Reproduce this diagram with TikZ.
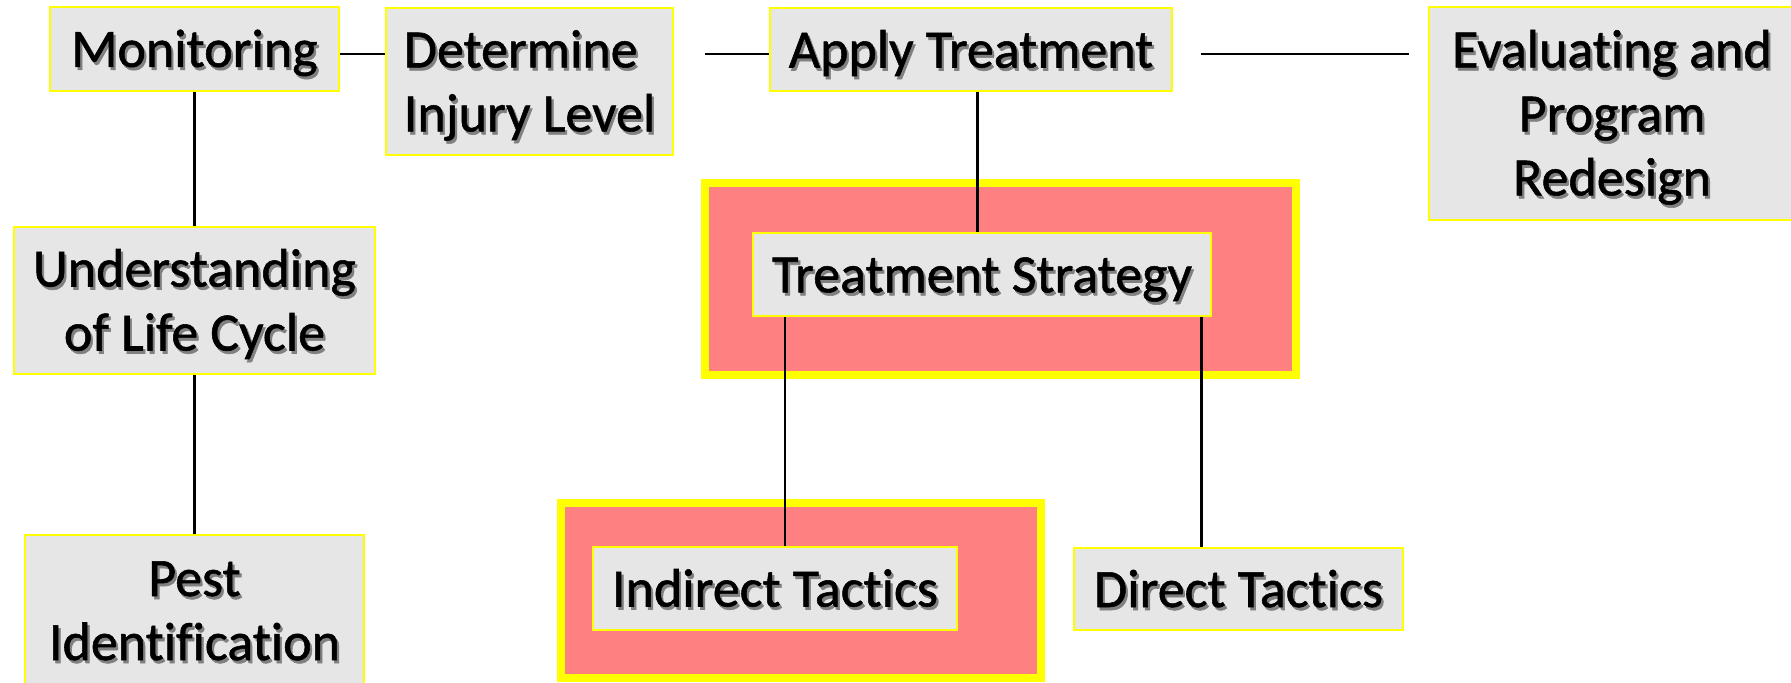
\documentclass[tikz,border=0pt]{standalone}
\usepackage{fontspec}
\setmainfont{Carlito}[Ligatures=CommonOff, FakeBold=1.0]
\usetikzlibrary{calc}
\definecolor{boxgray}{HTML}{E6E6E6}
\definecolor{pinkred}{HTML}{FF8080}
\definecolor{ylw}{HTML}{FFFF00}
\newcommand\shd[1]{\leavevmode\rule[-6pt]{0pt}{30pt}\rlap{\hspace{1.1pt}\raisebox{-1.5pt}{\textcolor{black!50}{#1}}}#1}
\tikzset{
  box/.style={draw=ylw, line width=1.2pt, fill=boxgray, inner sep=0pt, rectangle,
    font=\fontsize{27pt}{32pt}\selectfont, text=black, align=center},
  outerbox/.style={draw=ylw, line width=4pt, fill=pinkred, inner sep=0pt, rectangle},
  conn/.style={draw=black, line width=1.1pt}
}
\begin{document}
\begin{tikzpicture}[x=0.5pt,y=-0.5pt]
\useasboundingbox (0,0) rectangle (1791,682);
\clip (0,0) rectangle (1791,682);
% outer highlighted frames
\node[outerbox, minimum width=295.5pt, minimum height=96pt] (stratframe) at (1000.5,279) {};
\node[outerbox, minimum width=240pt, minimum height=87.5pt] (indframe) at (801,590.5) {};
% boxes
\node[box, minimum width=144.5pt, minimum height=42pt] (mon) at (194.5,49) {\shd{Monitoring}};
\node[box, minimum width=143.5pt, minimum height=73.5pt, align=left] (det) at (529.5,81.5) {\shd{Determine}\\\shd{Injury Level}};
\node[box, minimum width=201pt, minimum height=41.5pt] (app) at (971,49.5) {\shd{Apply Treatment}};
\node[box, minimum width=183pt, minimum height=106.5pt] (eva) at (1612,113.5) {\shd{Evaluating and}\\\shd{Program}\\\shd{Redesign}};
\node[box, minimum width=180.5pt, minimum height=73.5pt] (und) at (194.5,300.5) {\shd{Understanding}\\\shd{of Life Cycle}};
\node[box, minimum width=169.5pt, minimum height=75pt] (pest) at (194.5,610) {\shd{Pest}\\\shd{Identification}};
\node[box, minimum width=229pt, minimum height=41.5pt] (strat) at (982,274.5) {\shd{Treatment Strategy}};
\node[box, minimum width=182pt, minimum height=41.5pt] (ind) at (775,588.5) {\shd{Indirect Tactics}};
\node[box, minimum width=164.5pt, minimum height=41pt] (dir) at (1238.5,589) {\shd{Direct Tactics}};
% connector helpers
\coordinate (c1) at (337,54);
\coordinate (c2) at (705,54);
\coordinate (c3) at (1201,54);
\coordinate (c4) at (1409,54);
\coordinate (v1) at (977.5,0);
\coordinate (v2) at (785,0);
\coordinate (v3) at (1201.5,0);
% connectors
\draw[conn] (c1 -| mon.east) -- (c1 -| det.west);
\draw[conn] (c2) -- (c2 -| app.west);
\draw[conn] (c3) -- (c4);
\draw[conn] (mon.south) -- (und.north);
\draw[conn] (und.south) -- (pest.north);
\draw[conn] (app.south -| v1) -- (strat.north -| v1);
\draw[conn] (strat.south -| v2) -- (ind.north -| v2);
\draw[conn] (strat.south -| v3) -- (dir.north -| v3);
\end{tikzpicture}
\end{document}
